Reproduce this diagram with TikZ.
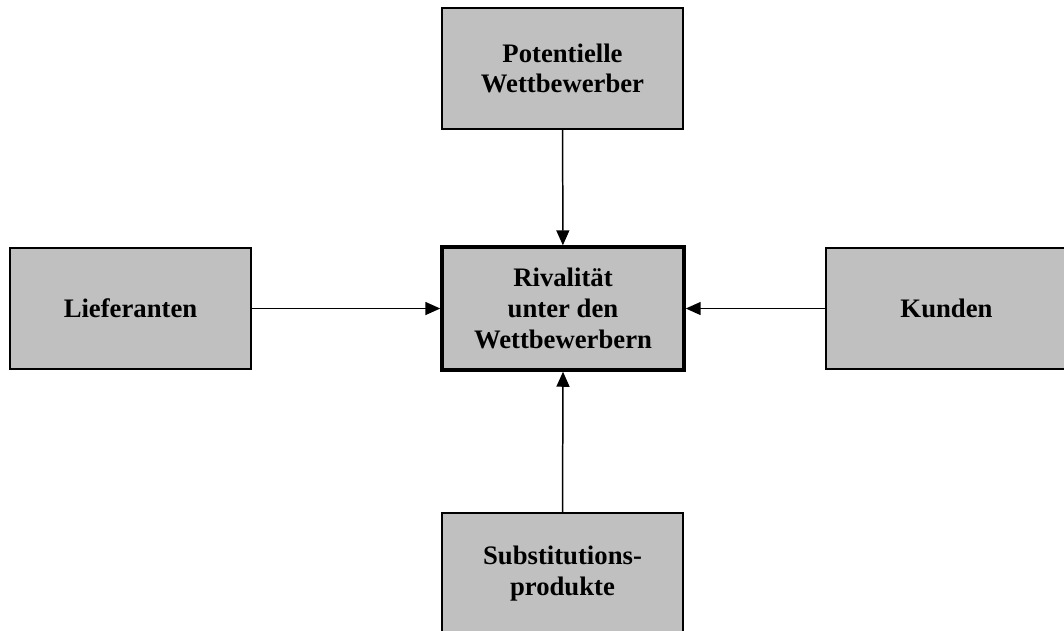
\documentclass[tikz,border=0pt]{standalone}
\usepackage{fontspec}
\setmainfont{Liberation Serif}
\usetikzlibrary{arrows.meta}
\definecolor{boxgray}{HTML}{C0C0C0}
\tikzset{
  force/.style={draw, line width=1.1pt, fill=boxgray, minimum width=4.82cm, minimum height=2.42cm,
    align=center, font=\fontsize{15.2}{17.5}\selectfont\bfseries, inner sep=0pt},
  rivalry/.style={force, line width=2pt, minimum width=4.84cm, minimum height=2.46cm},
  pull/.style={-{Triangle[length=0.3cm,width=0.26cm]}, line width=0.85pt}
}
\begin{document}
\begin{tikzpicture}[x=0.02cm, y=-0.02cm] % one unit = one pixel of the reference
    \useasboundingbox (0,0) rectangle (1064,630);
    % the five forces
    \node[rivalry] (rival) at (563,308.5) {Rivalität\\unter den\\Wettbewerbern};
    \node[force] (entrants) at (562.5,68.5) {Potentielle\\Wettbewerber};
    \node[force] (suppliers) at (130.5,308.5) {Lieferanten};
    \node[force] (customers) at (946.5,308.5) {Kunden};
    \node[force] (substitutes) at (562.5,573.5) {Substitutions-\\produkte};

    % arrows into the middle
    \draw[pull] (entrants) -- (rival);
    \draw[pull] (suppliers) -- (rival);
    \draw[pull] (customers) -- (rival);
    \draw[pull] (substitutes.north) -- (rival.south);
\end{tikzpicture}
\end{document}
